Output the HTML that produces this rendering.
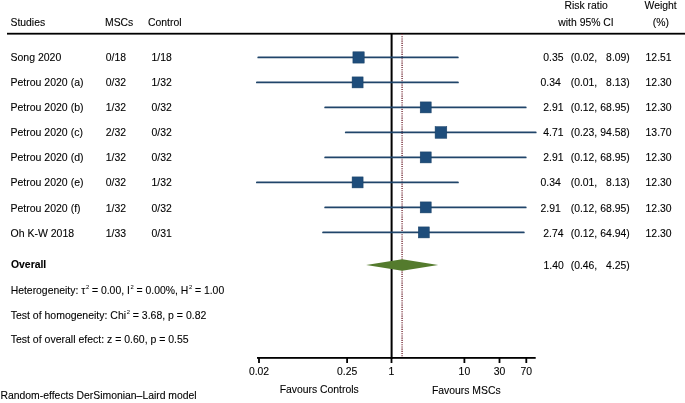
<!DOCTYPE html>
<html><head><meta charset="utf-8"><style>
html,body{margin:0;padding:0;background:#fff;width:685px;height:403px;overflow:hidden}
svg{display:block;will-change:transform}
text{font-family:"Liberation Sans",sans-serif;font-size:10.4px;fill:#000;stroke:#000;stroke-width:0.1px}
</style></head><body>
<svg width="685" height="403" viewBox="0 0 685 403">

<text x="10.5" y="26.2">Studies</text>
<text x="105.0" y="26.2">MSCs</text>
<text x="148.0" y="26.2">Control</text>
<text x="586.2" y="8.8" text-anchor="middle">Risk ratio</text>
<text x="586.0" y="25.8" text-anchor="middle">with 95% CI</text>
<text x="660.7" y="8.8" text-anchor="middle">Weight</text>
<text x="660.8" y="25.8" text-anchor="middle">(%)</text>
<rect x="7" y="32.8" width="678" height="1.8" fill="#000"/>
<line x1="402.1" y1="34" x2="402.1" y2="357" stroke="#864650" stroke-width="1.6" stroke-dasharray="1.1 1.1"/>
<rect x="390.6" y="33" width="2" height="326" fill="#000"/>
<rect x="257" y="357" width="278.7" height="1.8" fill="#000"/>
<rect x="258.1" y="357" width="1.8" height="6" fill="#000"/>
<text x="259.0" y="375.2" text-anchor="middle">0.02</text>
<rect x="346.2" y="357" width="1.8" height="6" fill="#000"/>
<text x="347.1" y="375.2" text-anchor="middle">0.25</text>
<rect x="390.6" y="357" width="1.8" height="6" fill="#000"/>
<text x="391.5" y="375.2" text-anchor="middle">1</text>
<rect x="463.5" y="357" width="1.8" height="6" fill="#000"/>
<text x="464.4" y="375.2" text-anchor="middle">10</text>
<rect x="498.6" y="357" width="1.8" height="6" fill="#000"/>
<text x="499.5" y="375.2" text-anchor="middle">30</text>
<rect x="525.4" y="357" width="1.8" height="6" fill="#000"/>
<text x="526.3" y="375.2" text-anchor="middle">70</text>
<text x="319.2" y="392.7" text-anchor="middle">Favours Controls</text>
<text x="466.3" y="393.5" text-anchor="middle">Favours MSCs</text>
<text x="10.5" y="60.9" style="font-size:10.5px">Song 2020</text>
<text x="105.8" y="60.9">0/18</text>
<text x="151.6" y="60.9">1/18</text>
<line x1="258.3" y1="57.4" x2="457.8" y2="57.4" stroke="#20456a" stroke-width="1.9" stroke-linecap="round"/>
<rect x="352.9" y="51.8" width="11.3" height="11.3" fill="#1e4d7b" stroke="#173f66" stroke-width="0.5"/>
<text x="563.5" y="60.9" text-anchor="end">0.35</text>
<text x="570.7" y="60.9">(0.02,</text>
<text x="629.8" y="60.9" text-anchor="end">8.09)</text>
<text x="645.6" y="60.9">12.51</text>
<text x="10.5" y="86.0" style="font-size:10.5px">Petrou 2020 (a)</text>
<text x="105.8" y="86.0">0/32</text>
<text x="151.6" y="86.0">1/32</text>
<line x1="256.9" y1="82.4" x2="457.9" y2="82.4" stroke="#20456a" stroke-width="1.9" stroke-linecap="round"/>
<rect x="352.1" y="76.9" width="11.0" height="11.0" fill="#1e4d7b" stroke="#173f66" stroke-width="0.5"/>
<text x="560.8" y="86.0" text-anchor="end">0.34</text>
<text x="570.7" y="86.0">(0.01,</text>
<text x="629.8" y="86.0" text-anchor="end">8.13)</text>
<text x="645.6" y="86.0">12.30</text>
<text x="10.5" y="111.1" style="font-size:10.5px">Petrou 2020 (b)</text>
<text x="105.8" y="111.1">1/32</text>
<text x="151.6" y="111.1">0/32</text>
<line x1="325.2" y1="107.4" x2="525.7" y2="107.4" stroke="#20456a" stroke-width="1.9" stroke-linecap="round"/>
<rect x="420.2" y="101.9" width="11.0" height="11.0" fill="#1e4d7b" stroke="#173f66" stroke-width="0.5"/>
<text x="563.5" y="111.1" text-anchor="end">2.91</text>
<text x="570.7" y="111.1">(0.12,</text>
<text x="629.8" y="111.1" text-anchor="end">68.95)</text>
<text x="645.6" y="111.1">12.30</text>
<text x="10.5" y="136.2" style="font-size:10.5px">Petrou 2020 (c)</text>
<text x="105.8" y="136.2">2/32</text>
<text x="151.6" y="136.2">0/32</text>
<line x1="345.8" y1="132.4" x2="535.7" y2="132.4" stroke="#20456a" stroke-width="1.9" stroke-linecap="round"/>
<rect x="435.1" y="126.6" width="11.7" height="11.7" fill="#1e4d7b" stroke="#173f66" stroke-width="0.5"/>
<text x="563.5" y="136.2" text-anchor="end">4.71</text>
<text x="570.7" y="136.2">(0.23,</text>
<text x="629.8" y="136.2" text-anchor="end">94.58)</text>
<text x="645.6" y="136.2">13.70</text>
<text x="10.5" y="161.3" style="font-size:10.5px">Petrou 2020 (d)</text>
<text x="105.8" y="161.3">1/32</text>
<text x="151.6" y="161.3">0/32</text>
<line x1="325.2" y1="157.4" x2="525.7" y2="157.4" stroke="#20456a" stroke-width="1.9" stroke-linecap="round"/>
<rect x="420.2" y="151.9" width="11.0" height="11.0" fill="#1e4d7b" stroke="#173f66" stroke-width="0.5"/>
<text x="563.5" y="161.3" text-anchor="end">2.91</text>
<text x="570.7" y="161.3">(0.12,</text>
<text x="629.8" y="161.3" text-anchor="end">68.95)</text>
<text x="645.6" y="161.3">12.30</text>
<text x="10.5" y="186.4" style="font-size:10.5px">Petrou 2020 (e)</text>
<text x="105.8" y="186.4">0/32</text>
<text x="151.6" y="186.4">1/32</text>
<line x1="256.9" y1="182.4" x2="457.9" y2="182.4" stroke="#20456a" stroke-width="1.9" stroke-linecap="round"/>
<rect x="352.1" y="176.9" width="11.0" height="11.0" fill="#1e4d7b" stroke="#173f66" stroke-width="0.5"/>
<text x="560.8" y="186.4" text-anchor="end">0.34</text>
<text x="570.7" y="186.4">(0.01,</text>
<text x="629.8" y="186.4" text-anchor="end">8.13)</text>
<text x="645.6" y="186.4">12.30</text>
<text x="10.5" y="211.5" style="font-size:10.5px">Petrou 2020 (f)</text>
<text x="105.8" y="211.5">1/32</text>
<text x="151.6" y="211.5">0/32</text>
<line x1="325.2" y1="207.4" x2="525.7" y2="207.4" stroke="#20456a" stroke-width="1.9" stroke-linecap="round"/>
<rect x="420.2" y="201.9" width="11.0" height="11.0" fill="#1e4d7b" stroke="#173f66" stroke-width="0.5"/>
<text x="560.8" y="211.5" text-anchor="end">2.91</text>
<text x="570.7" y="211.5">(0.12,</text>
<text x="629.8" y="211.5" text-anchor="end">68.95)</text>
<text x="645.6" y="211.5">12.30</text>
<text x="10.5" y="236.6" style="font-size:10.5px">Oh K-W 2018</text>
<text x="105.8" y="236.6">1/33</text>
<text x="151.6" y="236.6">0/31</text>
<line x1="323.1" y1="232.4" x2="523.8" y2="232.4" stroke="#20456a" stroke-width="1.9" stroke-linecap="round"/>
<rect x="418.3" y="226.9" width="11.0" height="11.0" fill="#1e4d7b" stroke="#173f66" stroke-width="0.5"/>
<text x="563.5" y="236.6" text-anchor="end">2.74</text>
<text x="570.7" y="236.6">(0.12,</text>
<text x="629.8" y="236.6" text-anchor="end">64.94)</text>
<text x="645.6" y="236.6">12.30</text>
<polygon points="366.2,265.0 402.2,259.3 438.2,265.0 402.2,270.7" fill="#547b2d"/>
<text x="11.0" y="268.2" font-weight="bold">Overall</text>
<text x="563.8" y="268.9" text-anchor="end">1.40</text>
<text x="570.7" y="268.9">(0.46,</text>
<text x="629.8" y="268.9" text-anchor="end">4.25)</text>
<text x="10.7" y="293.6">Heterogeneity: τ<tspan dx="0.6" dy="-4.6" font-size="5.8" stroke-width="0.05">2</tspan><tspan dy="4.6"> = 0.00, I</tspan><tspan dx="0.6" dy="-4.6" font-size="5.8" stroke-width="0.05">2</tspan><tspan dy="4.6"> = 0.00%, H</tspan><tspan dx="0.6" dy="-4.6" font-size="5.8" stroke-width="0.05">2</tspan><tspan dy="4.6"> = 1.00</tspan></text>
<text x="10.7" y="318.7" style="font-size:10.49px">Test of homogeneity: Chi<tspan dx="0.6" dy="-4.6" font-size="5.8" stroke-width="0.05">2</tspan><tspan dy="4.6"> = 3.68, p = 0.82</tspan></text>
<text x="10.7" y="343.4" style="font-size:10.5px">Test of overall efect: z = 0.60, p = 0.55</text>
<text x="0.5" y="398.9">Random-effects DerSimonian–Laird model</text>
</svg></body></html>
